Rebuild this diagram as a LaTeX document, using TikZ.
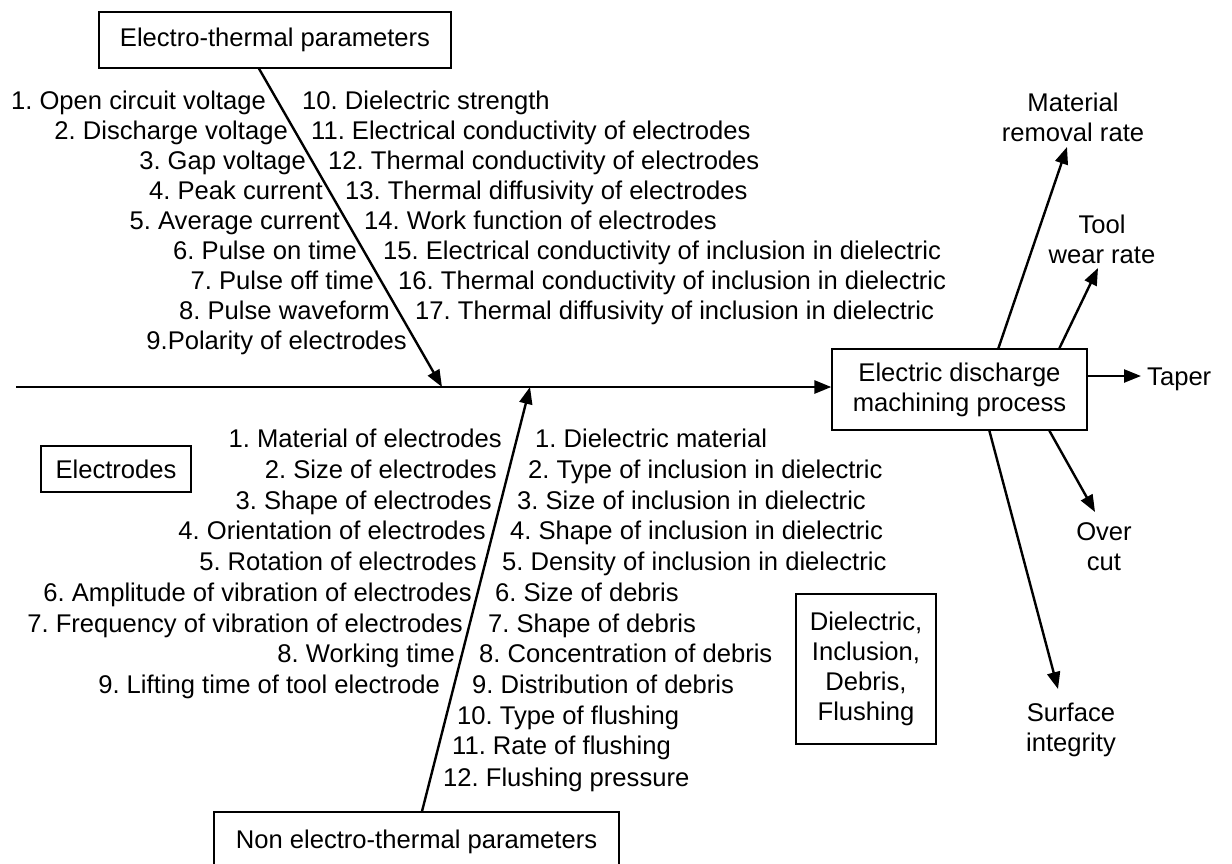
\documentclass[tikz,border=0pt]{standalone}
\usepackage{fontspec}
\setmainfont{Liberation Sans}
\usetikzlibrary{arrows.meta,calc}
\frenchspacing
\begin{document}
\begin{tikzpicture}[x=1pt,y=-1pt,
  every node/.style={font=\fontsize{25.6}{30}\selectfont},
  box/.style={draw, line width=1.3pt, inner sep=0pt, align=center},
  lab/.style={inner sep=0pt},
  arr/.style={line width=2.4pt, -{Triangle[length=17pt,width=13pt]}},
]
\useasboundingbox (0,0) rectangle (1232,863);

% cause boxes and effect box
\node[box, minimum width=352pt, minimum height=56pt] (et) at (275,40) {Electro-thermal parameters};
\node[box, minimum width=405pt, minimum height=60pt] (net) at (416.5,842) {Non electro-thermal parameters};
\node[box, minimum width=150pt, minimum height=46pt] (elec) at (116,469) {Electrodes};
\node[box, minimum width=140pt, minimum height=150pt] (didf) at (866,669) {Dielectric,\\Inclusion,\\Debris,\\Flushing};
\node[box, minimum width=255pt, minimum height=81pt] (edm) at (959.5,389.5) {Electric discharge\\machining process};

% spine
\coordinate (spineL) at (16,387);
\draw[arr, line width=2.8pt] (spineL) -- (edm.west |- spineL);

% branch arrows onto the spine
\coordinate (tipT) at (442,387);
\coordinate (tipB) at (530,387);
\draw[arr] ($(et.south)+(-16,0)$) -- (tipT);
\draw[arr] ($(net.north)+(5.5,0)$) -- (tipB);

% responses
\node[lab, align=center] (mrr) at (1073,117) {Material\\removal rate};
\node[lab, align=center] (twr) at (1102,239) {Tool\\wear rate};
\node[lab, anchor=base west] (tap) at (1147,385) {Taper};
\node[lab, align=center] (oc) at (1104,547) {Over\\cut};
\node[lab, align=center] (si) at (1071,730) {Surface\\integrity};

\coordinate (mrrT) at (1067,147);
\coordinate (twrT) at (1098,268);
\coordinate (tapT) at (1141,376);
\coordinate (ocT) at (1095,512);
\coordinate (siT) at (1058,689);
\draw[arr] ($(edm.north west)+(167,0)$) -- (mrrT);
\draw[arr] ($(edm.north west)+(228,0)$) -- (twrT);
\draw[arr] ($(edm.east)+(0,-13.5)$) -- (tapT);
\draw[arr] ($(edm.south west)+(218,0)$) -- (ocT);
\draw[arr] ($(edm.south west)+(158,0)$) -- (siT);

% electro-thermal parameters, left of the branch
\foreach \x/\y/\t [count=\i] in {
  266/100/{1. Open circuit voltage},
  288/130/{2. Discharge voltage},
  306/160/{3. Gap voltage},
  323/190/{4. Peak current},
  340/220/{5. Average current},
  357/250/{6. Pulse on time},
  374/280/{7. Pulse off time},
  390/310/{8. Pulse waveform},
  407/340/{9.Polarity of electrodes}}
  \node[lab, anchor=base east] (etl\i) at (\x,\y+9) {\t};

% electro-thermal parameters, right of the branch
\foreach \x/\y/\t [count=\i] in {
  302/100/{10. Dielectric strength},
  311/130/{11. Electrical conductivity of electrodes},
  328/160/{12. Thermal conductivity of electrodes},
  345/190/{13. Thermal diffusivity of electrodes},
  364/220/{14. Work function of electrodes},
  383/250/{15. Electrical conductivity of inclusion in dielectric},
  398/280/{16. Thermal conductivity of inclusion in dielectric},
  415/310/{17. Thermal diffusivity of inclusion in dielectric}}
  \node[lab, anchor=base west] (etr\i) at (\x,\y+9) {\t};

% electrode parameters, left of the lower branch
\foreach \x/\y/\t [count=\i] in {
  502/438/{1. Material of electrodes},
  497/469/{2. Size of electrodes},
  492/500/{3. Shape of electrodes},
  486/530/{4. Orientation of electrodes},
  477/561/{5. Rotation of electrodes},
  472/592/{6. Amplitude of vibration of electrodes},
  463/623/{7. Frequency of vibration of electrodes},
  455/653/{8. Working time},
  440/684/{9. Lifting time of tool electrode}}
  \node[lab, anchor=base east] (nel\i) at (\x,\y+9) {\t};

% dielectric, inclusion, debris and flushing parameters
\foreach \x/\y/\t [count=\i] in {
  535/438/{1. Dielectric material},
  528/469/{2. Type of inclusion in dielectric},
  517/500/{3. Size of inclusion in dielectric},
  510/530/{4. Shape of inclusion in dielectric},
  502/561/{5. Density of inclusion in dielectric},
  495/592/{6. Size of debris},
  488/623/{7. Shape of debris},
  479/653/{8. Concentration of debris},
  472/684/{9. Distribution of debris},
  457/715/{10. Type of flushing},
  452/745/{11. Rate of flushing},
  443/777/{12. Flushing pressure}}
  \node[lab, anchor=base west] (ner\i) at (\x,\y+9) {\t};
\end{tikzpicture}
\end{document}
